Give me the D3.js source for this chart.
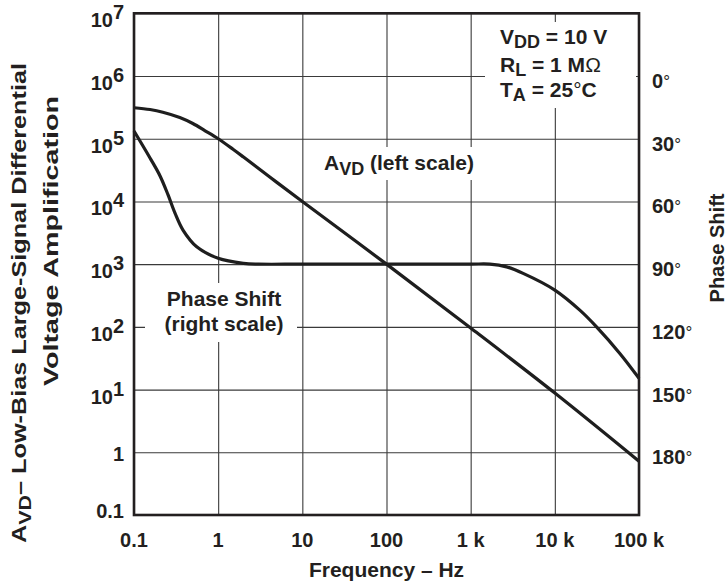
<!DOCTYPE html>
<html><head><meta charset="utf-8">
<script src="https://cdn.jsdelivr.net/npm/d3@7"></script>
<style>
body{margin:0;background:#fff}
svg{display:block}
text{font-family:"Liberation Sans",Arial,Helvetica,sans-serif;font-weight:bold;fill:#231f20}
</style>
</head><body>
<svg id="c" width="725" height="584"></svg>
<script>
// ---- data ----
const freqTicks = [0.1, 1, 10, 100, 1000, 10000, 100000];
const freqLabels = ["0.1", "1", "10", "100", "1 k", "10 k", "100 k"];
const gainTicks = [0.1, 1, 10, 100, 1e3, 1e4, 1e5, 1e6, 1e7];
const gainBase = ["0.1", "1", "10", "10", "10", "10", "10", "10", "10"];
const gainExp = ["", "", "1", "2", "3", "4", "5", "6", "7"];
const phaseTicks = [0, 30, 60, 90, 120, 150, 180];
const phaseLabels = ["0", "30", "60", "90", "120", "150", "180"];

const avdFreq = [0.1, 0.155, 0.22, 0.35, 0.5, 0.7, 1, 1.5, 2, 4.1, 10, 100, 1000, 10000, 100000];
const avdGain = [3.12e5, 2.92e5, 2.65e5, 2.18e5, 1.75e5, 1.34e5, 1.0e5, 6.8e4, 5.1e4, 2.45e4, 1.0e4, 1.0e3, 96, 8.8, 0.72];

const phaseFreq = [0.1, 0.155, 0.204, 0.254, 0.307, 0.382, 0.556, 1, 2, 3, 10, 100, 1000, 1690, 2670, 4200, 10000, 19800, 31300, 59200, 100000];
const phaseDeg  = [26.3, 39.2, 47.8, 56.9, 65.6, 73.7, 81.7, 87.2, 89.6, 90, 90, 90, 90, 90, 91.3, 94.4, 102.4, 112, 120, 132.7, 144.6];

// ---- layout ----
const L = 134, R = 639, T = 13.3, B = 515;
const svg = d3.select("#c");
const x = d3.scaleLog().domain([0.1, 1e5]).range([L, R]);
const y = d3.scaleLog().domain([0.1, 1e7]).range([B, T]);
const yp = d3.scaleLinear().domain([0, 180]).range([y(1e6), y(1)]);

// grid
const gx = svg.append("g").attr("transform", `translate(0,${B})`)
  .call(d3.axisBottom(x).tickValues(freqTicks).tickSize(-(B - T)).tickFormat(""));
const gy = svg.append("g").attr("transform", `translate(${L},0)`)
  .call(d3.axisLeft(y).tickValues(gainTicks).tickSize(-(R - L)).tickFormat(""));
[gx, gy].forEach(g => {
  g.select(".domain").remove();
  g.selectAll("line").attr("stroke", "#3a3a3a").attr("stroke-width", 1.1);
});

// label backgrounds
const boxes = [[485, 22, 151, 86], [320, 147, 164, 33], [145, 283, 152, 59]];
svg.selectAll("rect.bg").data(boxes).join("rect").attr("class", "bg")
  .attr("x", d => d[0]).attr("y", d => d[1]).attr("width", d => d[2]).attr("height", d => d[3])
  .attr("fill", "#fff");

// curves
const line = d3.line().curve(d3.curveCatmullRom.alpha(0.5));
const avdPts = avdFreq.map((f, i) => [x(f), y(avdGain[i])]);
const phPts = phaseFreq.map((f, i) => [x(f), yp(phaseDeg[i])]);
[avdPts, phPts].forEach(p => svg.append("path").attr("d", line(p))
  .attr("fill", "none").attr("stroke", "#1e1e1e").attr("stroke-width", 3.2)
  .attr("stroke-linejoin", "round"));

// border
svg.append("rect").attr("x", L).attr("y", T).attr("width", R - L).attr("height", B - T)
  .attr("fill", "none").attr("stroke", "#231f20").attr("stroke-width", 2.6);

// x tick labels
svg.append("g").selectAll("text").data(freqTicks).join("text")
  .attr("x", d => x(d)).attr("y", 547).attr("text-anchor", "middle")
  .style("font-size", "20px").text((d, i) => freqLabels[i]);

// y tick labels (left)
const yl = svg.append("g").selectAll("text").data(gainTicks).join("text")
  .attr("text-anchor", "end").attr("x", 124)
  .attr("y", (d, i) => gainExp[i] ? y(d) + 14 : (d === 0.1 ? B + 3 : y(d) + 9))
  .style("font-size", "20px");
yl.append("tspan").text((d, i) => gainBase[i]);
yl.append("tspan").attr("dy", (d, i) => gainExp[i] ? -8 : 0).text((d, i) => gainExp[i]);

// right phase labels
const pl = svg.append("g").selectAll("text").data(phaseTicks).join("text")
  .attr("x", 652).attr("y", d => yp(d) + 12).style("font-size", "20px");
pl.append("tspan").text((d, i) => phaseLabels[i]);
pl.append("tspan").style("font-weight", "normal").style("font-size", "17px").attr("dy", -1).text("\u00B0");

// axis titles
svg.append("text").attr("x", (L + R) / 2).attr("y", 577).attr("text-anchor", "middle")
  .style("font-size", "21px").text("Frequency \u2013 Hz");

const t1 = svg.append("text").attr("transform", "translate(26,303) rotate(-90)")
  .attr("text-anchor", "middle").style("font-size", "20px")
  .attr("textLength", 480).attr("lengthAdjust", "spacingAndGlyphs");
t1.append("tspan").text("A");
t1.append("tspan").attr("dy", 5).style("font-size", "17px").text("VD");
t1.append("tspan").attr("dy", -5).text("\u2013 Low-Bias Large-Signal Differential");

svg.append("text").attr("transform", "translate(58,241) rotate(-90)")
  .attr("text-anchor", "middle").style("font-size", "20px")
  .attr("textLength", 290).attr("lengthAdjust", "spacingAndGlyphs")
  .text("Voltage Amplification");

svg.append("text").attr("transform", "translate(724,248) rotate(-90)")
  .attr("text-anchor", "middle").style("font-size", "20px").text("Phase Shift");

// annotation
const ann = [["V", "DD", " = 10 V", 44], ["R", "L", " = 1 M", 72], ["T", "A", " = 25", 97]];
ann.forEach((a, i) => {
  const t = svg.append("text").attr("x", 500).attr("y", a[3]).style("font-size", "21px");
  t.append("tspan").text(a[0]);
  t.append("tspan").attr("dy", 4).style("font-size", "18px").text(a[1]);
  t.append("tspan").attr("dy", -4).text(a[2]);
  if (i === 1) t.append("tspan").style("font-weight", "normal").text("\u03A9");
  if (i === 2) { t.append("tspan").style("font-weight", "normal").text("\u00B0"); t.append("tspan").text("C"); }
});

// curve labels
const lab1 = svg.append("text").attr("x", 324).attr("y", 170).style("font-size", "21px");
lab1.append("tspan").text("A");
lab1.append("tspan").attr("dy", 5).style("font-size", "18px").text("VD");
lab1.append("tspan").attr("dy", -5).text(" (left scale)");

svg.append("text").attr("x", 224).attr("y", 306).attr("text-anchor", "middle")
  .style("font-size", "21px").text("Phase Shift");
svg.append("text").attr("x", 224).attr("y", 331).attr("text-anchor", "middle")
  .style("font-size", "21px").text("(right scale)");
</script>
</body></html>
